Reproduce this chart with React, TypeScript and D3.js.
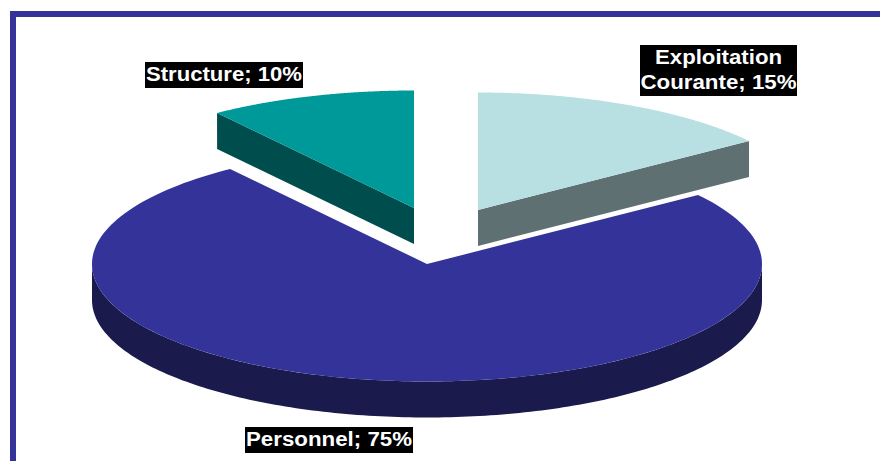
import React from "react";
import * as d3 from "d3";

const categories = ["Exploitation Courante", "Personnel", "Structure"];
const shares = [15, 75, 10];
const topColors = ["#B8E0E3", "#333399", "#009999"];
const sideColors = ["#5F7073", "#1A1A4D", "#004D4D"];
const offsets = [[51, -54], [0, 0], [-13, -56]];

const W = 880, H = 461;
const cx = 427, cy = 264, rx = 335, ry = 117.5, depth = 36;

const pie = d3.pie<number>().sort(null).value((d) => d);
const arcs = pie(shares);
const line = d3.line<[number, number]>().curve(d3.curveLinear);

const pt = (a: number, dx: number, dy: number, drop = 0): [number, number] => [
  cx + dx + rx * Math.sin(a),
  cy + dy - ry * Math.cos(a) + drop,
];

const sweep = (a0: number, a1: number, dx: number, dy: number, drop = 0) =>
  d3.range(0, 181).map((i) => pt(a0 + ((a1 - a0) * i) / 180, dx, dy, drop));

const labels = [
  { lines: ["Exploitation", "Courante; 15%"], widths: [127, 156], x: 640, y: 45, w: 157, h: 51 },
  { lines: ["Personnel; 75%"], widths: [166], x: 245, y: 427, w: 168, h: 26 },
  { lines: ["Structure; 10%"], widths: [156], x: 145, y: 62, w: 158, h: 26 },
];

export default function App() {
  const halfPi = Math.PI / 2;
  return (
    <svg width={W} height={H} style={{ position: "absolute", left: 0, top: 0, background: "#fff" }}>
      <rect x={10} y={11} width={W - 10} height={6} fill="#333399" />
      <rect x={10} y={11} width={6} height={H - 11} fill="#333399" />

      {arcs.map((a, i) => {
        const [dx, dy] = offsets[i];
        const apex: [number, number] = [cx + dx, cy + dy];
        const apexLow: [number, number] = [cx + dx, cy + dy + depth];
        const walls: [number, number][][] = [];
        if (a.data === d3.max(shares)) {
          // outer wall on the visible, front half of the rim
          walls.push([...sweep(halfPi, 3 * halfPi, dx, dy), ...sweep(3 * halfPi, halfPi, dx, dy, depth)]);
        } else {
          // cut face of the exploded wedge
          const edge = i === 0 ? a.endAngle : a.startAngle;
          walls.push([apex, pt(edge, dx, dy), pt(edge, dx, dy, depth), apexLow]);
        }
        const top = [apex, ...sweep(a.startAngle, a.endAngle, dx, dy)];
        return (
          <g key={categories[i]}>
            {walls.map((w, k) => (
              <path key={k} d={line(w) + "Z"} fill={sideColors[i]} />
            ))}
            <path d={line(top) + "Z"} fill={topColors[i]} />
          </g>
        );
      })}

      {labels.map((l) => (
        <g key={l.lines[0]}>
          <rect x={l.x} y={l.y} width={l.w} height={l.h} fill="#000" />
          {l.lines.map((t, k) => (
            <text
              key={t}
              x={l.x + l.w / 2}
              y={l.y + 19 + k * 24.5}
              textAnchor="middle"
              fill="#fff"
              fontFamily="Liberation Sans"
              fontWeight="bold"
              fontSize={20}
              textLength={l.widths[k]}
              lengthAdjust="spacingAndGlyphs"
            >
              {t}
            </text>
          ))}
        </g>
      ))}
    </svg>
  );
}
